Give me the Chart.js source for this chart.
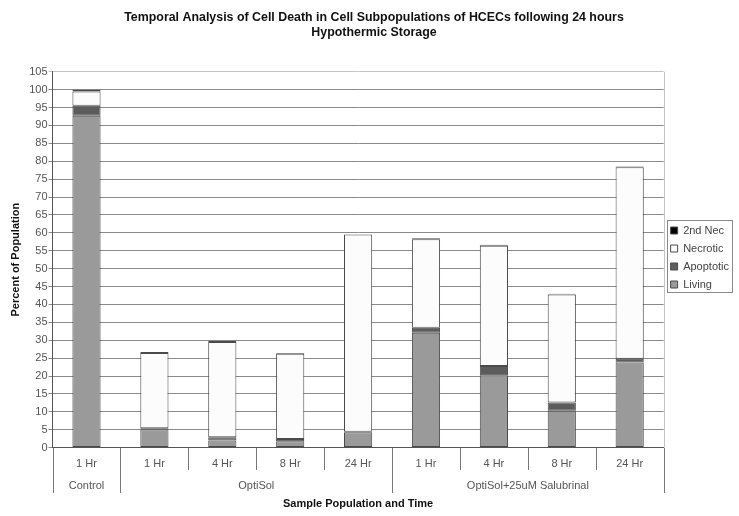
<!DOCTYPE html>
<html>
<head>
<meta charset="utf-8">
<script src="https://cdn.jsdelivr.net/npm/chart.js@4.4.1/dist/chart.umd.min.js"></script>
<style>
    html, body { margin: 0; padding: 0; background: #fff; }
    #wrap { width: 739px; height: 516px; }
</style>
</head>
<body>
<div id="wrap"><canvas id="chart"></canvas></div>
<script>
// valores
const timeLabels = ['1 Hr', '1 Hr', '4 Hr', '8 Hr', '24 Hr', '1 Hr', '4 Hr', '8 Hr', '24 Hr'];
const groupNames = ['Control', 'OptiSol', 'OptiSol+25uM Salubrinal'];
const groupSizes = [1, 4, 4];
const living    = [92.7, 5.1, 2.0, 1.8, 4.3, 32.1, 20.2, 10.3, 23.8];
const apoptotic = [2.8, 0.3, 0.9, 0.6, 0.1, 1.4, 2.6, 2.3, 1.0];
const necrotic  = [4.0, 21.0, 26.6, 23.8, 55.1, 24.7, 33.6, 30.2, 53.5];
const secondNec = [0.5, 0.3, 0.3, 0.2, 0.0, 0.3, 0.3, 0.2, 0.2];
const yMax = 105, yStep = 5;

const FONT = "'Liberation Sans', Arial, sans-serif";

// linhas separadoras e nomes dos grupos abaixo do eixo x
const groupAxis = {
    id: 'groupAxis',
    afterDraw(chart) {
        const ctx = chart.ctx, x = chart.scales.x, area = chart.chartArea;
        const half = (x.getPixelForValue(1) - x.getPixelForValue(0)) / 2;
        const bottom = Math.round(area.bottom);
        const groupEnds = [0];
        let acc = 0;
        groupSizes.forEach(n => { acc += n; groupEnds.push(acc); });
        ctx.save();
        ctx.strokeStyle = '#777';
        ctx.lineWidth = 1;
        for (let i = 0; i <= timeLabels.length; i++) {
            const px = Math.round(x.getPixelForValue(0) - half + i * 2 * half) + 0.5;
            const long = groupEnds.includes(i);
            ctx.beginPath();
            ctx.moveTo(px, bottom);
            ctx.lineTo(px, bottom + (long ? 45 : 22));
            ctx.stroke();
        }
        ctx.fillStyle = '#555';
        ctx.font = '11px ' + FONT;
        ctx.textAlign = 'center';
        ctx.textBaseline = 'middle';
        let start = 0;
        groupNames.forEach((g, k) => {
            const end = start + groupSizes[k] - 1;
            const cx = (x.getPixelForValue(start) + x.getPixelForValue(end)) / 2;
            ctx.fillText(g, cx, bottom + 38);
            start = end + 1;
        });
        // borda direita da área do gráfico
        ctx.strokeStyle = '#c4c4c4';
        ctx.beginPath();
        ctx.moveTo(Math.round(area.right) + 0.5, area.top);
        ctx.lineTo(Math.round(area.right) + 0.5, area.bottom);
        ctx.stroke();
        // moldura da legenda, só em volta dos itens
        const hb = chart.legend.legendHitBoxes;
        const l = Math.min(...hb.map(h => h.left)) - 4;
        const r = Math.max(...hb.map(h => h.left + h.width)) + 3;
        const t = Math.min(...hb.map(h => h.top)) - 5;
        const b = Math.max(...hb.map(h => h.top + h.height)) + 2;
        ctx.strokeStyle = '#8a8a8a';
        ctx.strokeRect(Math.round(l) + 0.5, Math.round(t) + 0.5, Math.round(r - l), Math.round(b - t));
        ctx.restore();
    }
};

const bar = { borderColor: '#4a4a4a', borderWidth: 1, borderSkipped: false, barPercentage: 0.415, categoryPercentage: 1 };

new Chart(document.getElementById('chart'), {
    type: 'bar',
    data: {
        labels: timeLabels,
        datasets: [
            { label: 'Living', data: living, backgroundColor: '#9a9a9a', ...bar },
            { label: 'Apoptotic', data: apoptotic, backgroundColor: '#5c5c5c', ...bar },
            { label: 'Necrotic', data: necrotic, backgroundColor: '#fcfcfc', ...bar },
            { label: '2nd Nec', data: secondNec, backgroundColor: '#000000', ...bar },
        ]
    },
    options: {
        responsive: true,
        maintainAspectRatio: false,
        animation: false,
        layout: { padding: { left: 9, right: 0, top: 4, bottom: 5 } },
        plugins: {
            title: {
                display: true,
                text: ['Temporal Analysis of Cell Death in Cell Subpopulations of HCECs following 24 hours', 'Hypothermic Storage'],
                font: { family: FONT, size: 12.4, weight: 'bold' },
                color: '#111',
                padding: { top: 6, bottom: 32 },
                lineHeight: 1.16
            },
            legend: {
                position: 'right',
                reverse: true,
                labels: {
                    font: { family: FONT, size: 11 },
                    color: '#444',
                    boxWidth: 7,
                    boxHeight: 7,
                    padding: 7
                }
            },
            tooltip: { enabled: false }
        },
        scales: {
            x: {
                stacked: true,
                grid: { display: false },
                border: { color: '#555' },
                ticks: { font: { family: FONT, size: 11 }, color: '#555', padding: 2, maxRotation: 0 },
                title: {
                    display: true, text: 'Sample Population and Time',
                    font: { family: FONT, size: 11, weight: 'bold' }, color: '#111',
                    padding: { top: 25, bottom: 0 }
                }
            },
            y: {
                stacked: true,
                min: 0, max: yMax,
                ticks: { stepSize: yStep, font: { family: FONT, size: 11 }, color: '#555', padding: 1 },
                grid: {
                    color: c => c.tick && c.tick.value === yMax ? '#c4c4c4' : '#8a8a8a',
                    tickLength: 4
                },
                border: { color: '#555' },
                title: {
                    display: true, text: 'Percent of Population',
                    font: { family: FONT, size: 11, weight: 'bold' }, color: '#111',
                    padding: { top: 0, bottom: 6 }
                }
            }
        }
    },
    plugins: [groupAxis]
});
</script>
</body>
</html>
